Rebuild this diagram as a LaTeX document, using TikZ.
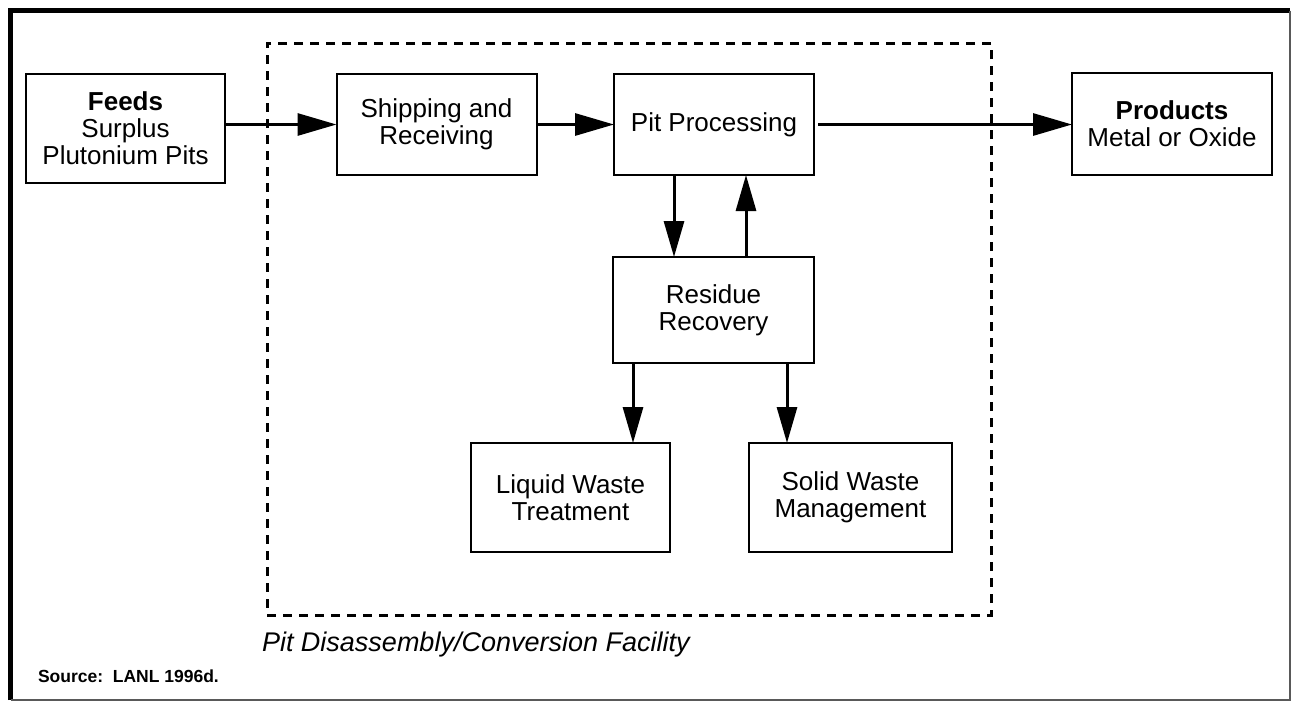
\documentclass[tikz,border=0pt]{standalone}
\usepackage{fontspec}
\setmainfont{Liberation Sans}
\usetikzlibrary{arrows.meta}
\begin{document}
\begin{tikzpicture}[x=1pt,y=-1pt,
  every node/.style={inner sep=0pt,outer sep=0pt},
  box/.style={draw,line width=2pt,align=center,
    font=\fontsize{26}{27}\selectfont},
  flow/.style={line width=3pt,
    -{Triangle[length=39pt,width=22pt]}},
  vflow/.style={line width=3pt,
    -{Triangle[length=36pt,width=20pt]}},
  facility/.style={draw,line width=3pt,dash pattern=on 9pt off 7pt}]
\useasboundingbox (0,0) rectangle (1293,702);

% outer frame: heavy on left and top, light on right and bottom
\draw[line width=5pt] (10.5,700) -- (10.5,10.5) -- (1290,10.5);
\draw[line width=1.5pt,black!65] (1290,10.5) -- (1290,700) -- (10.5,700);

% facility boundary
\node[facility,minimum width=724pt,minimum height=572pt] (fac) at (629,329) {};

% process boxes
\node[box,minimum width=199pt,minimum height=109pt] (feeds) at (125.5,128.5)
  {\textbf{Feeds}\\Surplus\\Plutonium Pits};
\node[box,minimum width=200pt,minimum height=101pt] (ship) at (436.5,124.5)
  {Shipping and\\Receiving};
\node[box,minimum width=200pt,minimum height=101pt] (pit) at (714,124.5)
  {\raisebox{4pt}{Pit Processing}};
\node[box,minimum width=200pt,minimum height=102pt] (prod) at (1172,124)
  {\textbf{Products}\\Metal or Oxide};
\node[box,minimum width=201pt,minimum height=106pt] (res) at (713.5,310)
  {Residue\\Recovery};
\node[box,minimum width=199pt,minimum height=109pt] (liq) at (570.5,497.5)
  {Liquid Waste\\Treatment};
\node[box,minimum width=203pt,minimum height=109pt] (sol) at (850.5,497.5)
  {Solid Waste\\Management};

% connectors
\draw[flow] (feeds.east |- ship.west) -- (ship.west);
\draw[flow] (ship.east) -- (pit.west);
\draw[flow] ([xshift=4pt]pit.east) -- (prod.west |- pit.east);
\draw[vflow] ([xshift=-40pt]pit.south) -- ([xshift=-40pt]pit.south |- res.north);
\draw[vflow] ([xshift=32pt]pit.south |- res.north) -- ([xshift=32pt]pit.south);
\draw[vflow] ([xshift=-80.5pt]res.south) -- ([xshift=-80.5pt]res.south |- liq.north);
\draw[vflow] ([xshift=73.5pt]res.south) -- ([xshift=73.5pt]res.south |- sol.north);

% captions
\node[anchor=base west,font=\fontsize{27}{28}\selectfont\itshape] (facname) at (262,651)
  {Pit Disassembly/Conversion Facility};
\node[anchor=base west,font=\fontsize{17.5}{18}\selectfont\bfseries] (src) at (38,682)
  {Source:\ \ LANL 1996d.};
\end{tikzpicture}
\end{document}
